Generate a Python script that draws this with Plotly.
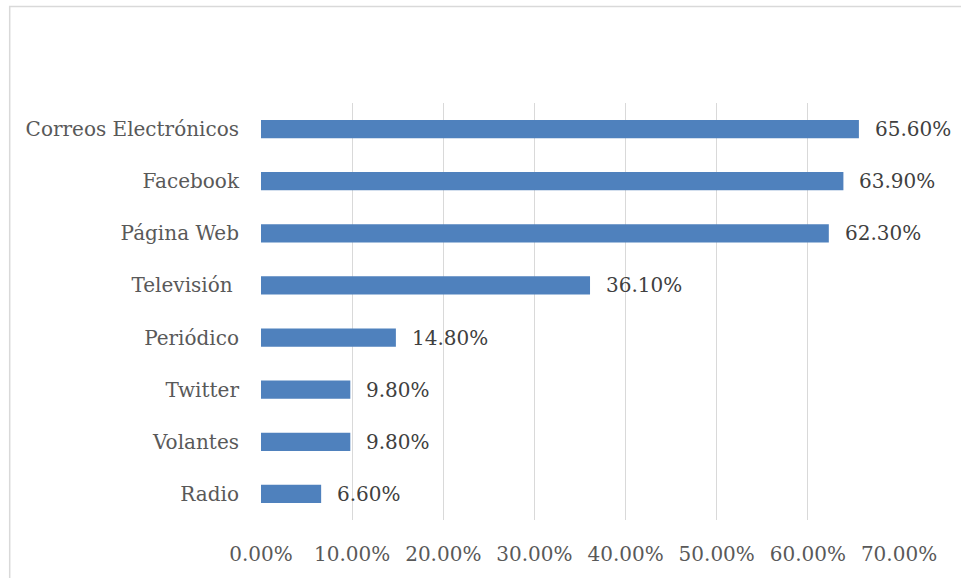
import plotly.graph_objects as go

categories = ["Correos Electrónicos", "Facebook", "Página Web", "Televisión ", "Periódico", "Twitter", "Volantes", "Radio"]
values = [65.6, 63.9, 62.3, 36.1, 14.8, 9.8, 9.8, 6.6]
tick_vals = [0, 10, 20, 30, 40, 50, 60, 70]
tick_text = ["0.00%", "10.00%", "20.00%", "30.00%", "40.00%", "50.00%", "60.00%", "70.00%"]

FONT = "DejaVu Serif"
FS = 20

fig = go.Figure()
fig.add_trace(go.Bar(
    x=values, y=categories, orientation="h",
    marker=dict(color="#4f81bd", line=dict(color="#4f81bd", width=0)),
    width=0.35,
))

annotations = []
for c, v in zip(categories, values):
    annotations.append(dict(
        x=v, y=c, xref="x", yref="y", text=f"{v:.2f}%", showarrow=False,
        xanchor="left", xshift=14, font=dict(family=FONT, size=FS, color="#404040"),
    ))

L, R, T, B = 261, 899.5, 103, 520
pw, ph = R - L, B - T
fig.add_shape(type="rect", xref="paper", yref="paper",
              x0=(9.5 - L) / pw, x1=(975 - L) / pw,
              y0=(B - 590) / ph, y1=(B - 6.5) / ph,
              line=dict(color="#d9d9d9", width=1.5), fillcolor="rgba(0,0,0,0)", layer="below")

fig.update_layout(
    width=961, height=578,
    margin=dict(l=L, r=961 - R, t=T, b=578 - B),
    paper_bgcolor="white", plot_bgcolor="white",
    showlegend=False,
    annotations=annotations,
    font=dict(family=FONT, size=FS, color="#595959"),
    bargap=0.65,
    xaxis=dict(range=[0, 70], tickvals=tick_vals, ticktext=tick_text,
               showgrid=True, gridcolor="#d9d9d9", gridwidth=1.1,
               zeroline=False, showline=False, ticks="", ticklabelstandoff=20,
               tickfont=dict(family=FONT, size=FS, color="#595959"), fixedrange=True),
    yaxis=dict(autorange="reversed", showgrid=False, zeroline=False, showline=False,
               ticks="", ticklabelstandoff=21,
               tickfont=dict(family=FONT, size=FS, color="#595959")),
)
fig.write_html("out.html")
